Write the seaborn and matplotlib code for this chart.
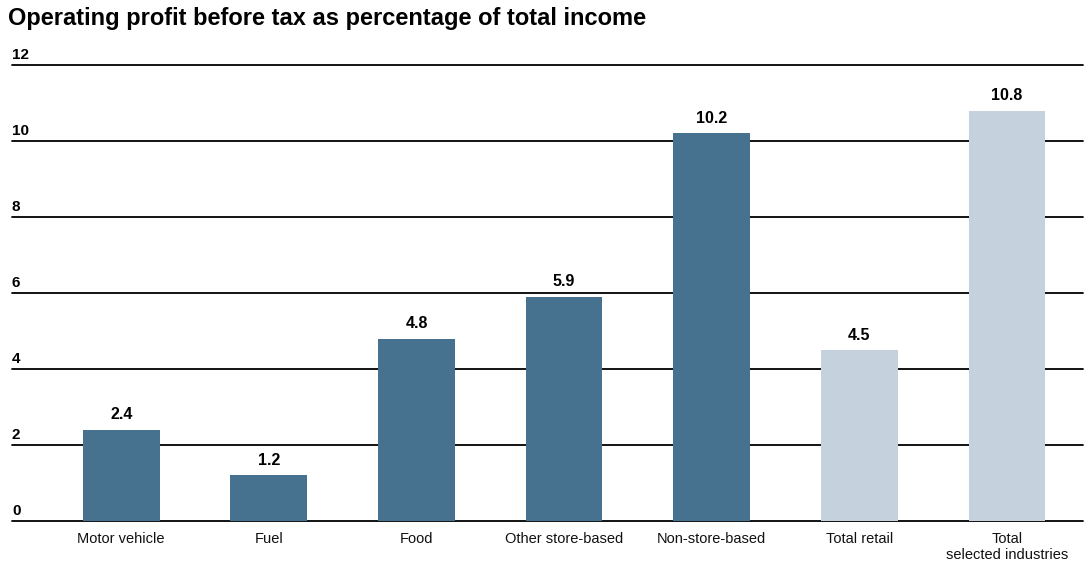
import matplotlib
matplotlib.use("Agg")
import matplotlib.pyplot as plt
import matplotlib.transforms as mtransforms
import seaborn as sns
import pandas as pd

categories = ["Motor vehicle", "Fuel", "Food", "Other store-based",
              "Non-store-based", "Total retail", "Total\nselected industries"]
values = [2.4, 1.2, 4.8, 5.9, 10.2, 4.5, 10.8]
groups = ["segment", "segment", "segment", "segment", "segment", "total", "total"]
y_ticks = [0, 2, 4, 6, 8, 10, 12]

palette = {"segment": "#46728f", "total": "#c5d1dd"}

sns.set_theme(style="white")
plt.rcParams["font.family"] = ["Liberation Sans", "DejaVu Sans"]

df = pd.DataFrame({"category": categories, "value": values, "group": groups})

fig = plt.figure(figsize=(10.9, 5.69), dpi=100)
ax = fig.add_axes([12 / 1090, 1 - 521 / 569, (1083 - 12) / 1090, (521 - 65) / 569])

# horizontal rules at each tick value, drawn beneath the bars
for t in y_ticks:
    ax.axhline(t, color="black", lw=1.3, zorder=0, clip_on=False)

sns.barplot(data=df, x="category", y="value", hue="group", palette=palette,
            dodge=False, width=0.52, legend=False, ax=ax, zorder=2,
            saturation=1, linewidth=0)

ax.set_ylim(0, 12)
ax.set_xlim(-0.74, 6.515)
ax.set_xlabel("")
ax.set_ylabel("")
ax.set_yticks([])
for s in ax.spines.values():
    s.set_visible(False)
ax.tick_params(axis="x", length=0, pad=8, labelsize=10.5, colors="#111111")

# y values sit just above their rule, flush with the left edge
trans = mtransforms.blended_transform_factory(ax.transAxes, ax.transData)
for t in y_ticks:
    ax.annotate(str(t), (0.0, t), xycoords=trans, xytext=(0, 4.5),
                textcoords="offset points", ha="left", va="baseline",
                fontsize=11, fontweight="bold", color="black")

for i, v in enumerate(values):
    ax.annotate(f"{v:.1f}", (i, v), xytext=(0, 7.5), textcoords="offset points",
                ha="center", va="baseline", fontsize=11.5, fontweight="bold",
                color="black")

fig.text(8 / 1090, 1 - 25 / 569, "Operating profit before tax as percentage of total income",
         ha="left", va="baseline", fontsize=17, fontweight="bold", color="black")

fig.savefig("out.png", dpi=100)
